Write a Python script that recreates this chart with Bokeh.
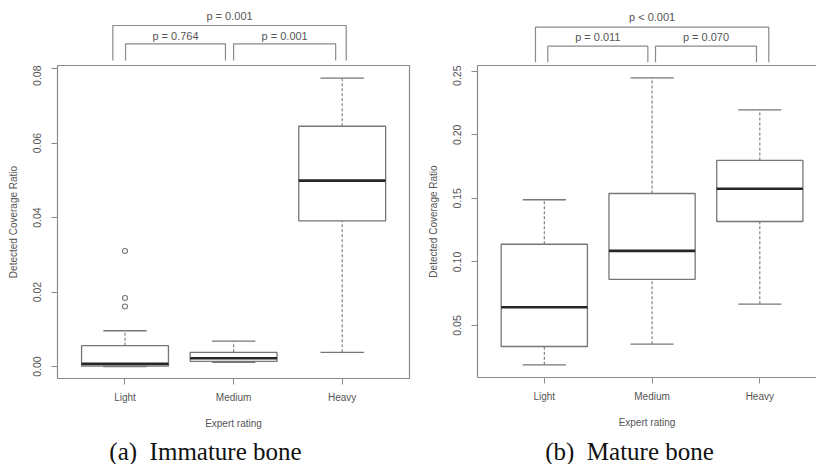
from bokeh.plotting import figure
from bokeh.layouts import column, row
from bokeh.models import Range1d, FixedTicker, LinearAxis, PrintfTickFormatter
from bokeh.core.properties import value
from bokeh.embed import file_html
from bokeh.resources import INLINE

# ---------------- data ----------------
categories = ["Light", "Medium", "Heavy"]
positions = [1, 2, 3]

# (a) Immature bone
imm_lower = [0.0000, 0.0011, 0.0038]
imm_q1 = [0.0001, 0.0014, 0.0391]
imm_median = [0.0007, 0.0022, 0.0499]
imm_q3 = [0.0056, 0.0038, 0.0645]
imm_upper = [0.0096, 0.0068, 0.0774]
imm_out_pos = [1, 1, 1]
imm_out_val = [0.0310, 0.0184, 0.0161]
imm_yticks = [0.00, 0.02, 0.04, 0.06, 0.08]
imm_pvals = ["p = 0.764", "p = 0.001", "p = 0.001"]

# (b) Mature bone
mat_lower = [0.0191, 0.0353, 0.0668]
mat_q1 = [0.0335, 0.0862, 0.1318]
mat_median = [0.0644, 0.1087, 0.1575]
mat_q3 = [0.1139, 0.1538, 0.1798]
mat_upper = [0.1489, 0.2448, 0.2196]
mat_out_pos = []
mat_out_val = []
mat_yticks = [0.05, 0.10, 0.15, 0.20, 0.25]
mat_pvals = ["p = 0.011", "p = 0.070", "p < 0.001"]

captions = ["(a)\u00a0 Immature bone", "(b)\u00a0 Mature bone"]

FONT = "Liberation Sans"
TXT = "#555555"
FRAME = "#8a8a8a"
BOX = "#767676"


def style_axis(ax):
    ax.axis_line_color = FRAME
    ax.major_tick_line_color = FRAME
    ax.minor_tick_line_color = None
    ax.major_tick_out = 6
    ax.major_tick_in = 0
    ax.major_label_text_font = FONT
    ax.major_label_text_color = TXT
    ax.axis_label_text_font = FONT
    ax.axis_label_text_color = TXT
    ax.axis_label_text_font_style = "normal"
    ax.axis_label_text_font_size = "10px"


def make_main(width, height, bl, br, bb, xr, yr, yticks, outline):
    p = figure(width=width, height=height, x_range=Range1d(*xr), y_range=Range1d(*yr),
               toolbar_location=None, output_backend="svg",
               min_border_left=bl, min_border_right=br, min_border_top=0, min_border_bottom=bb)
    p.grid.visible = False
    p.outline_line_color = FRAME if outline else None
    p.outline_line_width = 1.2
    p.background_fill_color = "white"
    p.border_fill_color = "white"
    for ax in p.xaxis + p.yaxis:
        style_axis(ax)
    p.xaxis.ticker = FixedTicker(ticks=positions)
    p.xaxis.major_label_overrides = {pos: c for pos, c in zip(positions, categories)}
    p.xaxis.major_label_text_font_size = "10px"
    p.xaxis.major_label_standoff = 7
    p.xaxis.axis_label = "Expert rating"
    p.xaxis.axis_label_standoff = 12
    p.yaxis.ticker = FixedTicker(ticks=yticks)
    p.yaxis.formatter = PrintfTickFormatter(format="%.2f")
    p.yaxis.major_label_orientation = "vertical"
    p.yaxis.major_label_text_font_size = "10.5px"
    p.yaxis.major_label_standoff = 10
    p.yaxis.axis_label = "Detected Coverage Ratio"
    p.yaxis.axis_label_standoff = 12
    if not outline:
        top = LinearAxis(ticker=FixedTicker(ticks=[]), axis_line_color=FRAME, axis_line_width=1.2,
                         major_tick_out=0, major_tick_in=0, major_label_standoff=0,
                         major_label_text_font_size="0px", minor_tick_line_color=None)
        p.add_layout(top, "above")
        p.yaxis.axis_line_width = 1.2
        p.xaxis.axis_line_width = 1.2
    return p


def draw_boxes(p, lower, q1, med, q3, upper, out_pos, out_val):
    hw = 0.4
    cw = 0.2
    p.quad(left=[x - hw for x in positions], right=[x + hw for x in positions],
           bottom=q1, top=q3, fill_color="white", line_color=BOX, line_width=1.3)
    p.segment(x0=positions, y0=q3, x1=positions, y1=upper, line_color=BOX,
              line_width=1.1, line_dash="3 2")
    p.segment(x0=positions, y0=lower, x1=positions, y1=q1, line_color=BOX,
              line_width=1.1, line_dash="3 2")
    p.segment(x0=[x - cw for x in positions], y0=upper, x1=[x + cw for x in positions], y1=upper,
              line_color=BOX, line_width=1.3)
    p.segment(x0=[x - cw for x in positions], y0=lower, x1=[x + cw for x in positions], y1=lower,
              line_color=BOX, line_width=1.3)
    p.segment(x0=[x - hw for x in positions], y0=med, x1=[x + hw for x in positions], y1=med,
              line_color="#262626", line_width=2.6)
    if out_pos:
        p.scatter(x=out_pos, y=out_val, marker="circle", size=5, fill_color=None,
                  line_color=BOX, line_width=1.1)


def make_brackets(width, bl, br, xr, brk, texts):
    b = figure(width=width, height=65, x_range=xr, y_range=Range1d(0, 65),
               toolbar_location=None, output_backend="svg", x_axis_type=None, y_axis_type=None,
               min_border=0, min_border_left=bl, min_border_right=br)
    b.outline_line_color = None
    xs, ys, tx, ty = [], [], [], []
    for (a, c, lev, foot, tlev) in brk:
        xs.append([a, a, c, c])
        ys.append([foot, lev, lev, foot])
        tx.append((a + c) / 2)
        ty.append(tlev)
    b.multi_line(xs=xs, ys=ys, line_color=FRAME, line_width=1.2)
    b.text(x=tx, y=ty, text=texts, text_font=value(FONT), text_font_size="11px",
           text_color=TXT, text_align="center", text_baseline="middle")
    return b


# left panel
mainL = make_main(415, 373, 57, 6, 60, (0.3785, 3.6197), (-0.00322, 0.08081), imm_yticks, True)
draw_boxes(mainL, imm_lower, imm_q1, imm_median, imm_q3, imm_upper, imm_out_pos, imm_out_val)
brkL = make_brackets(415, 57, 6, mainL.x_range,
                     [(1.005, 1.925, 21.7, 5, 30), (2.0, 2.94, 21.7, 5, 30), (0.888, 3.037, 40, 5, 50)],
                     imm_pvals)

# right panel
mainR = make_main(401, 372, 62, 0, 60, (0.380, 3.526), (0.0091, 0.25448), mat_yticks, False)
draw_boxes(mainR, mat_lower, mat_q1, mat_median, mat_q3, mat_upper, mat_out_pos, mat_out_val)
brkR = make_brackets(401, 62, 0, mainR.x_range,
                     [(1.032, 1.961, 19.3, 3.3, 28.3), (2.032, 2.969, 19.3, 3.3, 28.3), (0.918, 3.083, 38.3, 3.3, 48.3)],
                     mat_pvals)

# captions
cap = figure(width=816, height=26, x_range=Range1d(0, 816), y_range=Range1d(0, 26),
             toolbar_location=None, output_backend="svg", x_axis_type=None, y_axis_type=None,
             min_border=0)
cap.outline_line_color = None
cap.text(x=[205, 629], y=[13, 13], text=captions, text_font=value("Liberation Serif"),
         text_font_size="25px", text_color="#111111", text_align="center", text_baseline="middle")

layout = column(row(column(brkL, mainL), column(brkR, mainR)), cap)

open("out.html", "w").write(file_html(layout, INLINE))
